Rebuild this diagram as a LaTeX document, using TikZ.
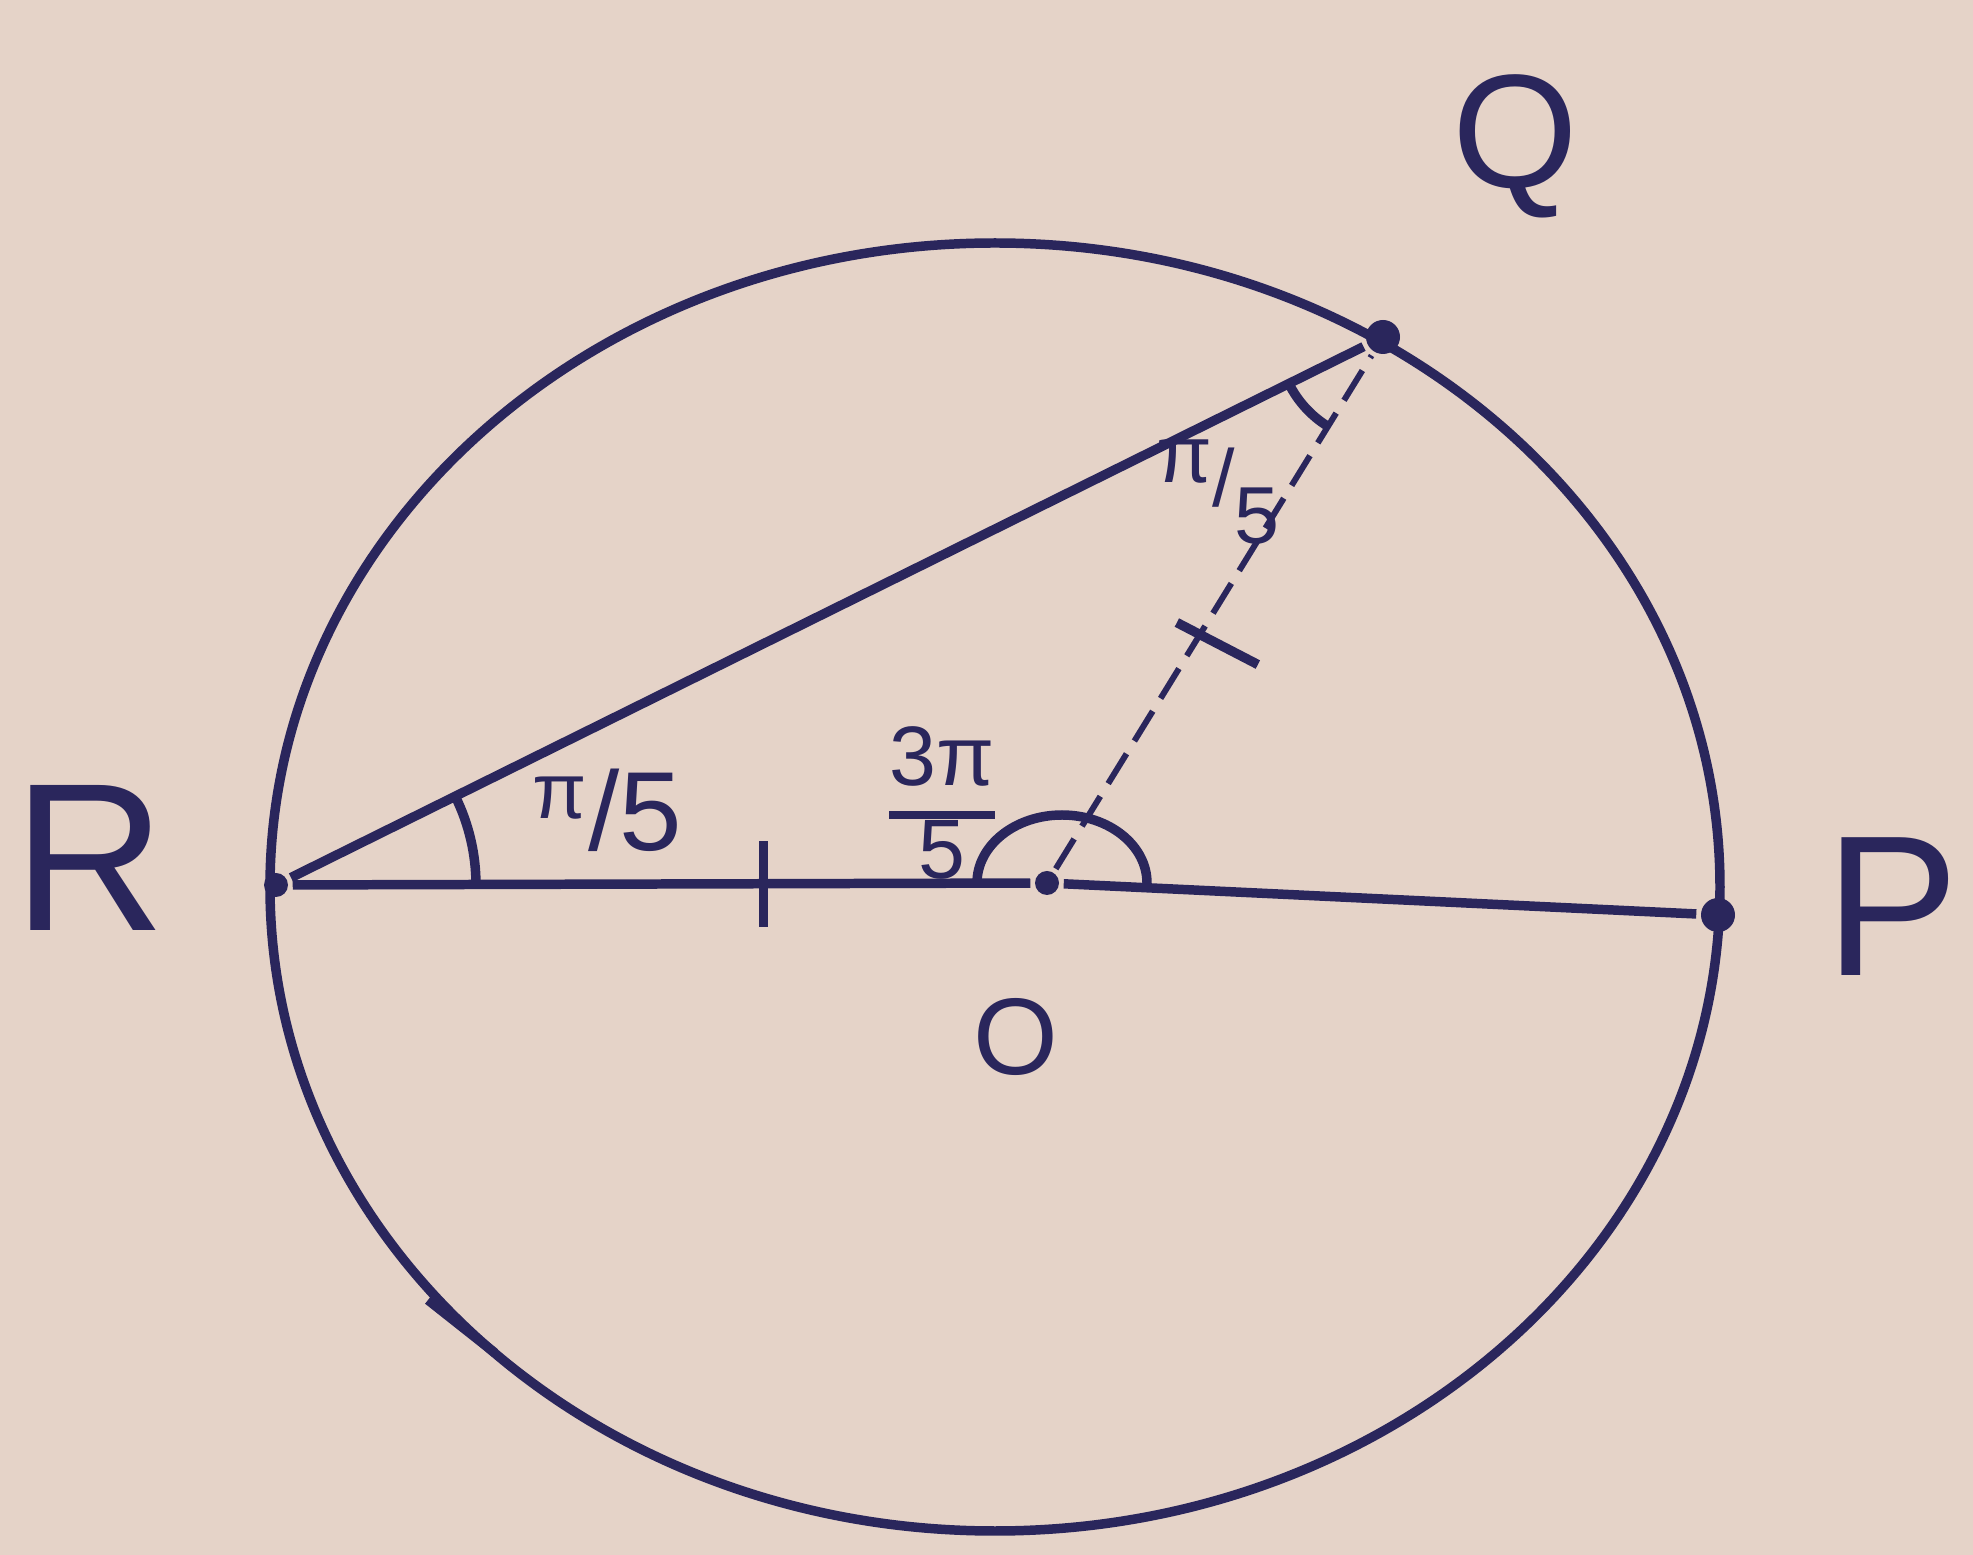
\documentclass[tikz,border=0pt]{standalone}
\usepackage{fontspec}
\setmainfont{Liberation Sans}
\usetikzlibrary{angles,calc,positioning}

\definecolor{paper}{RGB}{229,211,200}
\definecolor{ink}{RGB}{42,38,92}

\begin{document}
\begin{tikzpicture}[color=ink,line width=2.7pt,on grid,
  dot/.style={circle,fill=ink,inner sep=0pt,minimum size=0.34cm},
  lbl/.style={font=\fontsize{#1}{#1}\selectfont},
  dashline/.style={dash pattern=on 0.35cm off 0.15cm,line width=1.7pt}]

  \fill[paper] (0,0) rectangle (19.73,15.55);

  \draw (9.95,6.68) ellipse [x radius=7.25,y radius=6.44];
  \draw (4.28,2.55) -- (4.95,2.02);

  \node[dot,minimum size=0.24cm] (R) at (2.76,6.70) {};
  \node[dot] (P) at (17.18,6.40) {};
  \node[dot] (Q) at (13.83,12.18) {};
  \node[dot,minimum size=0.24cm] (O) at (10.47,6.72) {};

  \node[lbl=60] (Rl) [above left=0.27cm and 1.86cm of R] {R};
  \node[lbl=57] (Pl) [above right=0.08cm and 1.74cm of P] {P};
  \node[lbl=46] (Ql) [above right=1.91cm and 1.32cm of Q] {Q};
  \node[lbl=31] (Ol) [below left=1.54cm and 0.31cm of O] {O};

  \draw (R) -- (Q);
  \draw (R) -- (O) -- (P);
  \draw[dashline] (O) -- (Q);

  \pic[draw,angle radius=2.0cm] {angle=O--R--Q};
  \pic[draw,angle radius=1.05cm] {angle=R--Q--O};
  \draw ([xshift=1.0cm]O.center) arc[start angle=0,end angle=180,x radius=0.85cm,y radius=0.68cm];

  \draw ($(R)!0.632!(O)$) ++(0,-0.43) -- ++(0,0.86);
  \draw ($(O)!0.455!(Q)$) ++(-0.23,0.12) -- ++(0.81,-0.42);

  \node[lbl=32] (aR) [above right=0.75cm and 3.31cm of R] {\textsuperscript{π}/5};
  \node[lbl=24] (aO) [above left=0.68cm and 1.05cm of O] {\arrayrulewidth=2.5pt\begin{tabular}{@{}c@{}}3π\\\hline 5\end{tabular}};
  \node[lbl=23] (aQ) [below left=1.55cm and 1.65cm of Q] {\raisebox{0.3em}{π}/\raisebox{-0.45em}{5}};

\end{tikzpicture}
\end{document}
